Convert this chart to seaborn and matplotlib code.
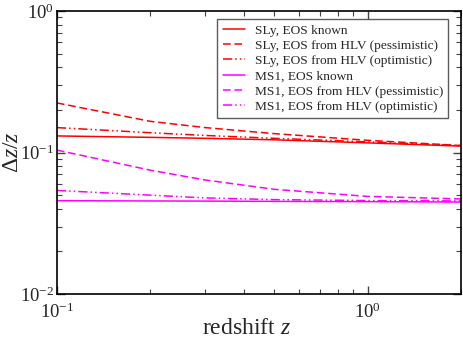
import numpy as np
import pandas as pd
import seaborn as sns
import matplotlib.pyplot as plt
from matplotlib.ticker import LogLocator, NullFormatter

# redshift sample points
redshift = [0.1, 0.2, 0.3, 0.5, 1.0, 2.0]

sly_known = [0.131, 0.128, 0.126, 0.123, 0.117, 0.111]
sly_pess = [0.224, 0.166, 0.150, 0.136, 0.122, 0.112]
sly_opt = [0.150, 0.138, 0.132, 0.126, 0.119, 0.112]
ms1_known = [0.0457, 0.0455, 0.0454, 0.0452, 0.0450, 0.0447]
ms1_pess = [0.104, 0.075, 0.064, 0.055, 0.049, 0.047]
ms1_opt = [0.0540, 0.0500, 0.0478, 0.0465, 0.0458, 0.0455]

labels = ['SLy, EOS known',
          'SLy, EOS from HLV (pessimistic)',
          'SLy, EOS from HLV (optimistic)',
          'MS1, EOS known',
          'MS1, EOS from HLV (pessimistic)',
          'MS1, EOS from HLV (optimistic)']
series = [sly_known, sly_pess, sly_opt, ms1_known, ms1_pess, ms1_opt]
colors = ['#ff0000', '#ff0000', '#ff0000', '#ff00ff', '#ff00ff', '#ff00ff']
styles = ['', (5, 2.5), (6, 2, 1, 2, 1, 2), '', (5, 2.5), (6, 2, 1, 2, 1, 2)]

frames = []
for lab, vals in zip(labels, series):
    frames.append(pd.DataFrame({'z': redshift, 'dz': vals, 'curve': lab}))
df = pd.concat(frames, ignore_index=True)

sns.set_style('ticks')
plt.rcParams['font.family'] = ['Liberation Serif', 'DejaVu Serif']
plt.rcParams['mathtext.fontset'] = 'custom'
plt.rcParams['mathtext.rm'] = 'Liberation Serif'
plt.rcParams['mathtext.it'] = 'Liberation Serif:italic'
plt.rcParams['axes.unicode_minus'] = False

fig = plt.figure(figsize=(4.63, 3.42), dpi=100)
ax = fig.add_axes([0.123, 0.14, 0.873, 0.828])

sns.lineplot(data=df, x='z', y='dz', hue='curve', style='curve',
             palette=dict(zip(labels, colors)), dashes=dict(zip(labels, styles)),
             hue_order=labels, style_order=labels, linewidth=1.1, ax=ax)

ax.set_xscale('log')
ax.set_yscale('log')
ax.set_xlim(0.1, 2.0)
ax.set_ylim(0.01, 1.0)

ax.xaxis.set_major_locator(LogLocator(base=10, numticks=10))
ax.xaxis.set_minor_locator(LogLocator(base=10, subs=np.arange(2, 10), numticks=10))
ax.yaxis.set_major_locator(LogLocator(base=10, numticks=10))
ax.yaxis.set_minor_locator(LogLocator(base=10, subs=np.arange(2, 10), numticks=10))
ax.xaxis.set_minor_formatter(NullFormatter())
ax.yaxis.set_minor_formatter(NullFormatter())

ax.tick_params(which='both', direction='in', top=True, right=True, labelsize=13.5, color='#444444')
ax.tick_params(which='major', length=6, width=1)
ax.tick_params(which='minor', length=3.5, width=0.8)
ax.tick_params(axis='x', pad=6)
ax.tick_params(axis='y', pad=2)
for s in ax.spines.values():
    s.set_linewidth(1.2)
    s.set_color('black')

ax.set_xlabel('redshift $z$', fontsize=17)
ax.set_ylabel(r'$\Delta z/z$', fontsize=17)
ax.xaxis.set_label_coords(0.47, -0.085)
ax.yaxis.set_label_coords(-0.084, 0.5)

leg = ax.legend(loc='upper right', bbox_to_anchor=(0.968, 0.972), fontsize=9.6,
                frameon=True, fancybox=False, edgecolor='#333333',
                handlelength=1.7, handletextpad=0.7, labelspacing=0.22,
                borderpad=0.4, borderaxespad=0.0)
leg.get_frame().set_linewidth(1.0)
leg.set_title(None)

fig.savefig('out.png', dpi=100)
